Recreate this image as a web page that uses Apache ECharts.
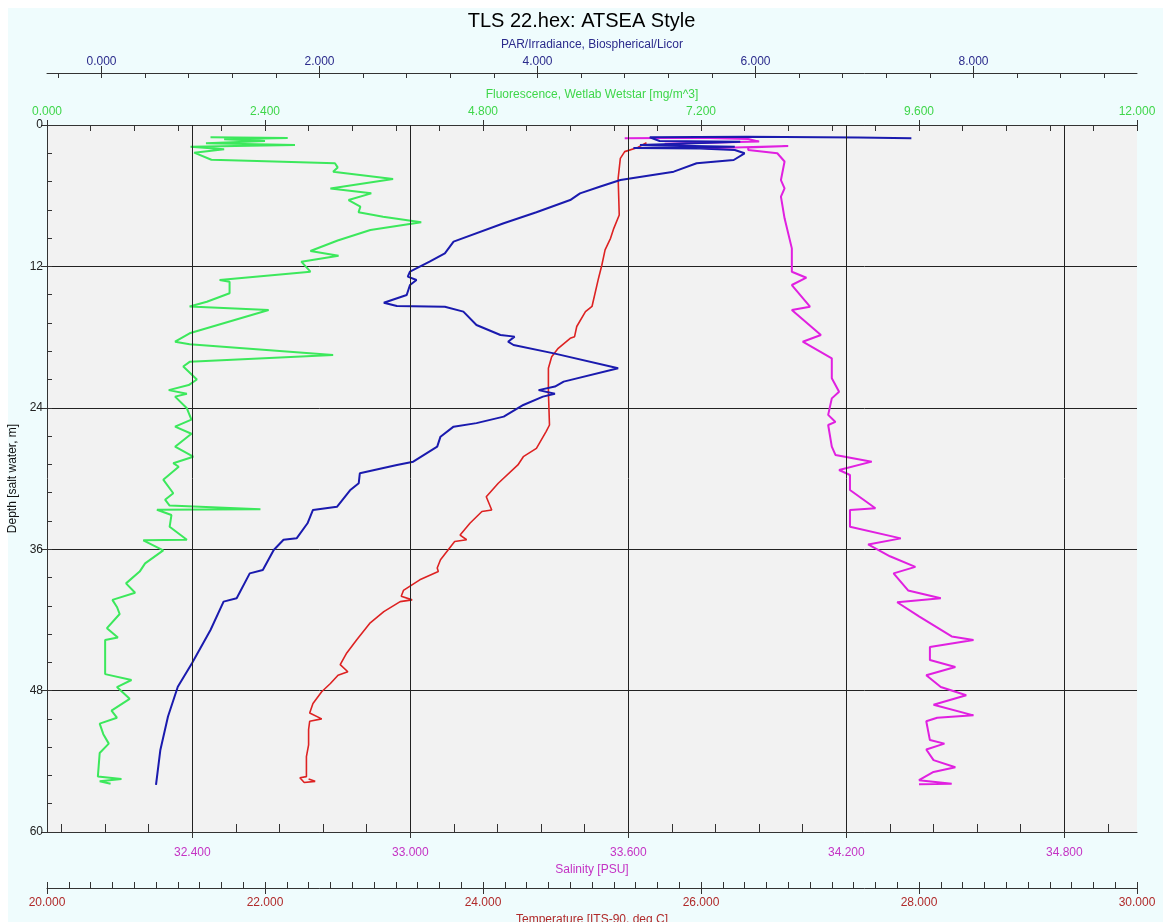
<!DOCTYPE html>
<html>
<head>
<meta charset="utf-8">
<title>TLS 22.hex: ATSEA Style</title>
<script src="https://cdn.jsdelivr.net/npm/echarts@6/dist/echarts.min.js"></script>
<style>
  html, body { margin: 0; padding: 0; background: #ffffff; }
  #chart {
    width: 1163px; height: 922px;
    background: linear-gradient(#effcfd, #effcfd) 8px 8px / calc(100% - 8px) calc(100% - 8px) no-repeat, #ffffff;
  }
</style>
</head>
<body>
<div id="chart"></div>
<script>
// ---- CTD downcast profile, TLS 22.hex ----

// Fluorescence, Wetlab Wetstar [mg/m^3]
const flDepth = [1.05, 1.10, 1.20, 1.35, 1.55, 1.70, 1.85, 2.05, 2.35, 2.95, 3.05, 3.25, 3.60, 3.96, 4.58, 5.38, 5.80, 6.37, 6.93, 7.41, 7.78, 8.26, 8.91, 9.80, 10.69, 11.09, 11.60, 12.45, 13.15, 13.30, 14.28, 15.00, 15.40, 15.70, 17.68, 18.39, 18.60, 19.52, 20.10, 20.50, 21.60, 22.07, 22.50, 22.80, 23.05, 24.04, 25.00, 25.60, 26.20, 27.30, 28.15, 28.70, 29.00, 30.10, 31.25, 31.80, 32.30, 32.60, 32.65, 33.10, 34.10, 35.20, 35.25, 36.10, 37.20, 37.90, 38.90, 39.70, 40.30, 40.90, 41.50, 42.70, 43.50, 43.70, 45.00, 46.60, 47.10, 47.70, 48.70, 49.70, 50.30, 50.80, 51.70, 52.50, 53.30, 55.30, 55.50, 55.70, 55.90];
const flValue = [1.80, 2.65, 1.95, 2.40, 1.75, 2.73, 1.58, 1.95, 1.62, 1.81, 2.31, 3.17, 3.20, 3.15, 3.81, 3.12, 3.57, 3.32, 3.45, 3.43, 3.70, 4.12, 3.56, 3.20, 2.90, 3.21, 2.80, 2.90, 1.90, 2.01, 2.01, 1.76, 1.57, 2.44, 1.57, 1.41, 1.57, 3.15, 1.57, 1.50, 1.65, 1.56, 1.34, 1.54, 1.41, 1.54, 1.59, 1.41, 1.59, 1.41, 1.61, 1.39, 1.45, 1.28, 1.39, 1.30, 1.35, 2.35, 1.21, 1.37, 1.35, 1.54, 1.06, 1.28, 1.08, 1.02, 0.87, 0.97, 0.72, 0.77, 0.80, 0.66, 0.78, 0.64, 0.64, 0.64, 0.93, 0.77, 0.91, 0.71, 0.77, 0.58, 0.62, 0.68, 0.58, 0.56, 0.82, 0.58, 0.70];

// PAR/Irradiance, Biospherical/Licor
const parDepth = [1.13, 1.07, 1.00, 1.05, 1.36, 1.42, 1.70, 1.84, 1.95, 2.00, 2.12, 2.40, 2.97, 3.25, 3.96, 4.67, 5.24, 5.80, 6.37, 7.41, 8.34, 9.90, 10.89, 11.60, 12.45, 12.87, 13.15, 13.58, 14.43, 15.08, 15.36, 15.42, 15.84, 16.97, 17.82, 17.96, 18.39, 18.67, 19.38, 20.65, 21.78, 22.20, 22.50, 22.80, 23.05, 23.76, 24.75, 25.30, 25.60, 26.45, 27.30, 28.57, 28.85, 29.56, 30.40, 31.00, 32.40, 32.67, 33.80, 35.08, 35.20, 36.07, 37.77, 38.05, 40.17, 40.45, 42.86, 45.68, 47.67, 50.20, 53.04, 56.00];
const parValue = [7.43, 6.94, 5.92, 5.03, 5.12, 5.86, 4.94, 5.81, 4.88, 5.49, 5.81, 5.90, 5.80, 5.46, 5.25, 4.76, 4.57, 4.39, 4.30, 3.99, 3.69, 3.23, 3.15, 3.01, 2.83, 2.81, 2.89, 2.83, 2.80, 2.59, 2.71, 3.15, 3.32, 3.44, 3.66, 3.79, 3.73, 3.78, 4.15, 4.74, 4.24, 4.16, 4.01, 4.16, 4.05, 3.87, 3.69, 3.44, 3.23, 3.11, 3.08, 2.86, 2.71, 2.37, 2.36, 2.28, 2.16, 1.94, 1.89, 1.79, 1.67, 1.58, 1.48, 1.36, 1.24, 1.12, 1.00, 0.83, 0.70, 0.61, 0.54, 0.50];

// Temperature [ITS-90, deg C]
const tempDepth = [1.50, 1.90, 2.26, 2.83, 4.52, 7.64, 8.77, 9.62, 10.60, 11.90, 13.00, 15.00, 15.40, 15.84, 17.10, 17.96, 18.10, 18.95, 19.66, 20.65, 22.63, 25.46, 26.00, 27.44, 28.15, 28.85, 30.40, 31.55, 32.67, 32.80, 33.80, 34.80, 35.20, 35.35, 36.90, 37.60, 37.90, 38.60, 39.50, 40.00, 40.30, 40.45, 41.30, 42.30, 43.70, 44.80, 45.80, 46.40, 46.70, 47.40, 48.10, 49.10, 49.90, 50.40, 50.60, 51.30, 52.60, 53.60, 55.30, 55.40, 55.80, 55.70, 55.50];
const tempValue = [25.50, 25.42, 25.30, 25.26, 25.24, 25.25, 25.20, 25.17, 25.12, 25.09, 25.06, 25.01, 25.00, 24.94, 24.86, 24.84, 24.80, 24.69, 24.63, 24.60, 24.60, 24.61, 24.58, 24.49, 24.37, 24.32, 24.14, 24.03, 24.08, 23.99, 23.88, 23.79, 23.85, 23.74, 23.61, 23.58, 23.59, 23.42, 23.27, 23.25, 23.35, 23.24, 23.09, 22.96, 22.84, 22.75, 22.69, 22.76, 22.67, 22.60, 22.52, 22.44, 22.41, 22.52, 22.41, 22.40, 22.40, 22.38, 22.38, 22.32, 22.36, 22.46, 22.40];

// Salinity [PSU]
const salDepth = [1.13, 1.08, 1.19, 1.41, 1.60, 1.98, 1.78, 1.90, 2.12, 2.40, 3.10, 4.67, 5.38, 6.08, 7.92, 10.47, 11.74, 12.45, 12.96, 13.58, 15.42, 15.70, 17.82, 18.39, 19.80, 21.50, 22.63, 23.20, 24.60, 25.20, 25.46, 27.30, 28.00, 28.57, 29.28, 29.70, 30.98, 32.53, 32.67, 34.10, 35.08, 35.60, 36.60, 37.50, 38.05, 39.50, 40.17, 40.50, 41.70, 43.40, 43.70, 44.30, 45.40, 46.00, 46.70, 47.70, 48.40, 49.20, 50.10, 50.30, 50.60, 52.20, 52.50, 53.00, 53.90, 54.50, 54.90, 55.60, 55.90, 55.95];
const salValue = [33.59, 33.80, 33.93, 33.96, 33.70, 33.82, 34.04, 33.93, 33.93, 34.01, 34.03, 34.02, 34.03, 34.02, 34.03, 34.05, 34.05, 34.05, 34.09, 34.05, 34.10, 34.05, 34.13, 34.08, 34.16, 34.16, 34.18, 34.16, 34.15, 34.17, 34.15, 34.16, 34.17, 34.27, 34.18, 34.21, 34.21, 34.28, 34.21, 34.21, 34.35, 34.26, 34.32, 34.39, 34.33, 34.37, 34.46, 34.34, 34.40, 34.49, 34.55, 34.43, 34.43, 34.50, 34.42, 34.46, 34.53, 34.44, 34.55, 34.45, 34.42, 34.43, 34.47, 34.42, 34.44, 34.50, 34.44, 34.40, 34.49, 34.40];

// Axis tick values
const parLabels = [0, 2, 4, 6, 8];
const parMinor = [-0.4, 0, 0.4, 0.8, 1.2, 1.6, 2, 2.4, 2.8, 3.2, 3.6, 4, 4.4, 4.8, 5.2, 5.6, 6, 6.4, 6.8, 7.2, 7.6, 8, 8.4, 8.8, 9.2];
const salLabels = [32.4, 33.0, 33.6, 34.2, 34.8];
const salMinor = [32.04, 32.16, 32.28, 32.4, 32.52, 32.64, 32.76, 32.88, 33.0, 33.12, 33.24, 33.36, 33.48, 33.6, 33.72, 33.84, 33.96, 34.08, 34.2, 34.32, 34.44, 34.56, 34.68, 34.8, 34.92];

const pairs = (vals, depths) => vals.map((v, i) => [v, depths[i]]);

const FONT = "'Liberation Sans', Arial, sans-serif";
const C_FL = '#3ce85c', C_PAR = '#1a1aae', C_T = '#dd2222', C_S = '#e020e0';
const C_FL_TXT = '#3fd64a', C_PAR_TXT = '#2b2b8c', C_T_TXT = '#b02a2a', C_S_TXT = '#c433c4';
const AXIS_LINE = { lineStyle: { color: '#333333', width: 1 } };
const fmt3 = v => Number(v).toFixed(3);

function tickOnly(base, extra) {
  return Object.assign({
    axisLine: { show: false },
    axisLabel: { show: false },
    splitLine: { show: false }
  }, base, extra);
}

const xAxes = [
  // 0: fluorescence (top, on the plot frame)
  {
    type: 'value', position: 'top', offset: 0, min: 0, max: 12, interval: 2.4,
    axisLine: AXIS_LINE,
    axisTick: { inside: false, length: 5, lineStyle: { color: '#333' } },
    axisLabel: { color: C_FL_TXT, fontFamily: FONT, fontSize: 12, margin: 7, formatter: fmt3 },
    splitLine: { show: false },
    name: 'Fluorescence, Wetlab Wetstar [mg/m^3]', nameLocation: 'middle', nameGap: 22,
    nameTextStyle: { color: C_FL_TXT, fontFamily: FONT, fontSize: 12 }
  },
  // 1: fluorescence minor ticks
  tickOnly({ type: 'value', position: 'top', offset: 0, min: 0, max: 12, interval: 0.48 },
    { axisTick: { inside: true, length: 6, lineStyle: { color: '#333' } } }),
  // 2: PAR (top, offset)
  {
    type: 'value', position: 'top', offset: 52, min: -0.5, max: 9.5,
    axisLine: AXIS_LINE,
    axisTick: { inside: false, length: 7, customValues: parLabels, lineStyle: { color: '#333' } },
    axisLabel: { color: C_PAR_TXT, fontFamily: FONT, fontSize: 12, margin: 5, customValues: parLabels, formatter: fmt3 },
    splitLine: { show: false },
    name: 'PAR/Irradiance, Biospherical/Licor', nameLocation: 'middle', nameGap: 18,
    nameTextStyle: { color: C_PAR_TXT, fontFamily: FONT, fontSize: 12 }
  },
  // 3: PAR minor ticks
  tickOnly({ type: 'value', position: 'top', offset: 52, min: -0.5, max: 9.5 },
    { axisTick: { inside: true, length: 5, customValues: parMinor, lineStyle: { color: '#333' } } }),
  // 4: salinity (bottom, on the plot frame)
  {
    type: 'value', position: 'bottom', offset: 0, min: 32, max: 35,
    axisLine: AXIS_LINE,
    axisTick: { inside: false, length: 6, customValues: salLabels, lineStyle: { color: '#333' } },
    axisLabel: { color: C_S_TXT, fontFamily: FONT, fontSize: 12, margin: 15, customValues: salLabels, formatter: fmt3 },
    splitLine: { show: false },
    name: 'Salinity [PSU]', nameLocation: 'middle', nameGap: 25,
    nameTextStyle: { color: C_S_TXT, fontFamily: FONT, fontSize: 12 }
  },
  // 5: salinity minor ticks
  tickOnly({ type: 'value', position: 'bottom', offset: 0, min: 32, max: 35 },
    { axisTick: { inside: true, length: 8, customValues: salMinor, lineStyle: { color: '#333' } } }),
  // 6: temperature (bottom, offset)
  {
    type: 'value', position: 'bottom', offset: 56, min: 20, max: 30, interval: 2,
    axisLine: AXIS_LINE,
    axisTick: { inside: false, length: 6, lineStyle: { color: '#333' } },
    axisLabel: { color: C_T_TXT, fontFamily: FONT, fontSize: 12, margin: 9, formatter: fmt3 },
    splitLine: { show: false },
    name: 'Temperature [ITS-90, deg C]', nameLocation: 'middle', nameGap: 22,
    nameTextStyle: { color: C_T_TXT, fontFamily: FONT, fontSize: 12 }
  },
  // 7: temperature minor ticks
  tickOnly({ type: 'value', position: 'bottom', offset: 56, min: 20, max: 30, interval: 0.2 },
    { axisTick: { inside: true, length: 6, lineStyle: { color: '#333' } } })
];

const yAxes = [
  {
    type: 'value', inverse: true, min: 0, max: 60, interval: 12, position: 'left',
    axisLine: AXIS_LINE,
    axisTick: { inside: false, length: 6, lineStyle: { color: '#333' } },
    axisLabel: { color: '#222', fontFamily: FONT, fontSize: 12, margin: 4 },
    splitLine: { show: true, lineStyle: { color: '#222', width: 1 } },
    name: 'Depth [salt water, m]', nameLocation: 'middle', nameGap: 26, nameRotate: 90,
    nameTextStyle: { color: '#111', fontFamily: FONT, fontSize: 12 }
  },
  tickOnly({ type: 'value', inverse: true, min: 0, max: 60, interval: 2.4, position: 'left' },
    { axisTick: { inside: true, length: 5, lineStyle: { color: '#333' } } })
];

function trace(name, color, xIdx, data, width) {
  return {
    name, type: 'line', xAxisIndex: xIdx, yAxisIndex: 0, data,
    showSymbol: false, symbol: 'none', z: 3,
    lineStyle: { color, width }, itemStyle: { color },
    emphasis: { disabled: true }
  };
}

const option = {
  animation: false,
  backgroundColor: 'transparent',
  title: {
    text: 'TLS 22.hex: ATSEA Style', left: 'center', top: 6,
    textStyle: { fontFamily: FONT, fontSize: 20, fontWeight: 'normal', color: '#000' }
  },
  grid: {
    left: 47, top: 125, width: 1090, height: 707,
    outerBoundsMode: 'none', containLabel: false,
    show: true, backgroundColor: '#f2f2f2', borderWidth: 0
  },
  xAxis: xAxes,
  yAxis: yAxes,
  series: [
    // vertical grid lines at the salinity label positions
    {
      type: 'line', xAxisIndex: 4, yAxisIndex: 0, data: [], z: 1, silent: true,
      markLine: {
        silent: true, symbol: 'none', label: { show: false },
        lineStyle: { color: '#222', width: 1, type: 'solid' },
        data: salLabels.map(v => ({ xAxis: v }))
      }
    },
    trace('Salinity', C_S, 4, pairs(salValue, salDepth), 2),
    trace('Temperature', C_T, 6, pairs(tempValue, tempDepth), 1.6),
    trace('Fluorescence', C_FL, 0, pairs(flValue, flDepth), 2),
    trace('PAR', C_PAR, 2, pairs(parValue, parDepth), 2)
  ]
};

const chart = echarts.init(document.getElementById('chart'), null, { renderer: 'canvas' });
chart.setOption(option);
</script>
</body>
</html>
